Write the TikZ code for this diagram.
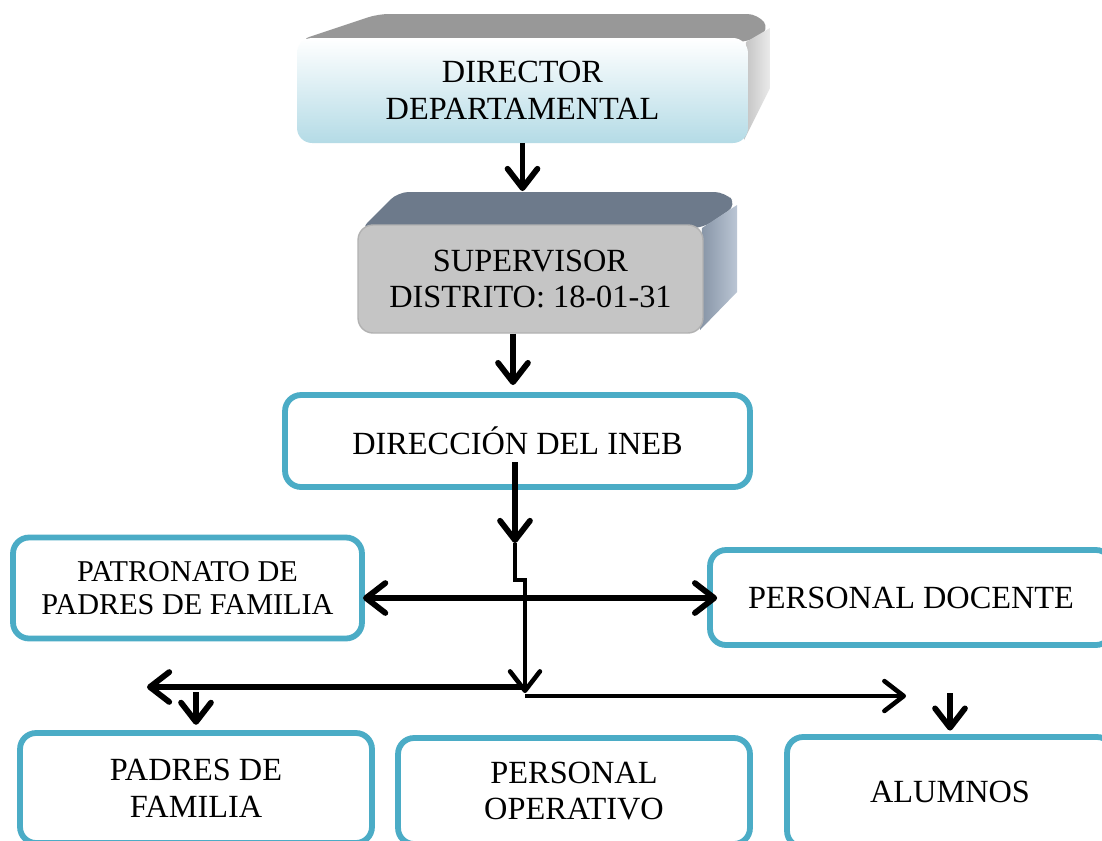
\documentclass[tikz,border=0pt]{standalone}
\usepackage{fontspec}
\setmainfont{Liberation Serif}
\usetikzlibrary{arrows.meta}
\definecolor{cajaborde}{HTML}{4BACC6}
\definecolor{dirazul}{HTML}{B4DBE6}
\definecolor{dirtapa}{HTML}{989898}
\definecolor{suptapa}{HTML}{6D7A8B}
\definecolor{supfrente}{HTML}{C5C5C5}
\definecolor{suplado}{HTML}{9DADC2}

\tikzset{
  caja/.style={draw=cajaborde, line width=3.3pt, rounded corners=0.32cm, fill=white, align=center, inner sep=0pt, font=\fontsize{18.4}{21}\selectfont},
  caja3d/.style={rounded corners=0.3cm, align=center, inner sep=0pt, font=\fontsize{18.4}{21}\selectfont},
  flecha/.style={line width=3.3pt, -{Straight Barb[length=11pt,width=17pt,round]}},
  flechas/.style={line width=3.3pt, {Straight Barb[length=11pt,width=17pt,round]}-{Straight Barb[length=11pt,width=17pt,round]}},
}

\begin{document}
\begin{tikzpicture}[x=0.02cm, y=-0.02cm]
		%%%%% START %%%%%
		\useasboundingbox (0,0) rectangle (1102,840);
		\clip (0,0) rectangle (1102,840);
		\fill[white] (0,0) rectangle (1102,840);
		
		% director departamental
		\fill[dirtapa, rounded corners=6pt] (300,40) -- (378,14) -- (758,14) -- (770,30) -- (748,42) -- cycle;
		\shade[left color=black!24, right color=black!8] (746,42) -- (770,28) -- (770,88) -- (744,140) -- cycle;
		\node[caja3d, top color=white, bottom color=dirazul, minimum width=9.02cm, minimum height=2.1cm] (dir) at (522.5,90.5) {DIRECTOR\\DEPARTAMENTAL};
		
		% supervisor
		\fill[suptapa, rounded corners=6pt] (360,230) -- (398,192) -- (725,192) -- (737,205) -- (703,228) -- cycle;
		\shade[left color=suplado!85!black, right color=suplado!70!white] (702,228) -- (737,205) -- (737,292) -- (700,330) -- cycle;
		\node[caja3d, fill=supfrente, draw=black!30, line width=0.8pt, minimum width=6.9cm, minimum height=2.16cm] (sup) at (530.5,279) {SUPERVISOR\\DISTRITO: 18-01-31};
		
		\node[caja, minimum width=9.3cm, minimum height=1.84cm] (ineb) at (517.5,441) {DIRECCIÓN DEL INEB};
		\node[caja, minimum width=6.98cm, minimum height=2.02cm, font=\fontsize{17.2}{18.6}\selectfont] (patro) at (187.5,588) {PATRONATO DE\\PADRES DE FAMILIA};
		\node[caja, minimum width=8.04cm, minimum height=1.9cm] (doc) at (911,597.5) {PERSONAL DOCENTE};
		\node[caja, minimum width=7.04cm, minimum height=2.2cm] (padres) at (196,788) {PADRES DE\\FAMILIA};
		\node[caja, minimum width=7.04cm, minimum height=2.12cm] (oper) at (574,791) {PERSONAL\\OPERATIVO};
		\node[caja, minimum width=6.52cm, minimum height=2.2cm] (alum) at (950,792) {ALUMNOS};
		
		% flechas
		\coordinate (tapasup) at (522,191);
		\coordinate (baja) at (513,0);
		\coordinate (t0) at (515,462);
		\coordinate (t1) at (515,543);
		\coordinate (quiebre) at (515,580);
		\coordinate (t2) at (525,693);
		\coordinate (fila) at (0,598);
		\coordinate (izq) at (147,687);
		\coordinate (der) at (906,696);
		\coordinate (padresarriba) at (196,692);
		\coordinate (alumarriba) at (950,693);
		
		\draw[flecha] (dir.south) -- (dir.south |- tapasup);
		\draw[flecha, shorten >=4pt] (sup.south -| baja) -- (ineb.north -| baja);
		\draw[flecha] (t0) -- (t1);
		\draw[flecha, line width=2.6pt] (t1) -- (quiebre) -| (t2);
		\draw[flechas, shorten <=-1pt, shorten >=-0.2cm] (patro.east |- fila) -- (doc.west |- fila);
		\draw[flecha] (t2 |- izq) -- (izq);
		\draw[flecha, line width=2.6pt] (t2 |- der) -- (der);
		\draw[flecha, shorten >=3pt] (padresarriba) -- (padres.north);
		\draw[flecha, shorten >=2pt] (alumarriba) -- (alum.north);
		%%%%% END %%%%%
\end{tikzpicture}
\end{document}
